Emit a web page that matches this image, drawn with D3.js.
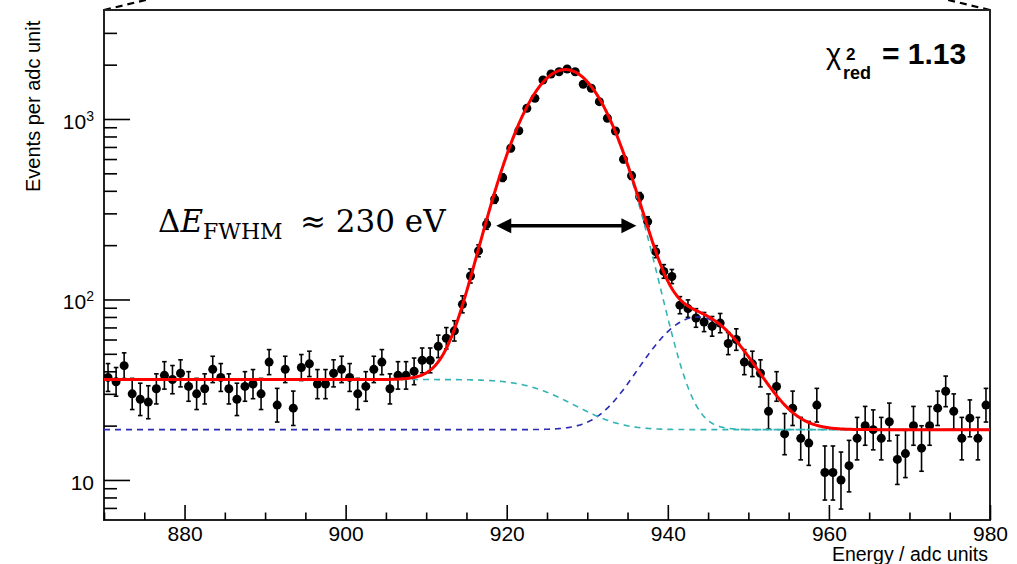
<!DOCTYPE html>
<html>
<head>
<meta charset="utf-8">
<script src="https://cdn.jsdelivr.net/npm/d3@7"></script>
<style>
	body { margin: 0; background: #fff; }
	svg text { font-family: "Liberation Sans", Arial, Helvetica, sans-serif; fill: #000; }
</style>
</head>
<body>
<div id="canvas"></div>
<script>
// histogram: 1 adc-unit bins starting at 870
const binStart = 870;
const binWidth = 1;
const counts = [
	37, 35, 43, 30, 28, 27, 32, 38, 36, 39,
	33, 30, 32, 41, 37, 32, 28, 33, 34, 30,
	45, 26, 41, 25, 42, 44, 34, 34, 39, 41,
	37, 30, 33, 41, 45, 32, 38, 38, 40, 46,
	46, 55, 61, 67, 94, 135, 186, 261, 360, 473,
	688, 861, 1146, 1302, 1645, 1776, 1828, 1892, 1828, 1557,
	1480, 1247, 1009, 858, 598, 485, 371, 270, 184, 143,
	134, 93, 89, 79, 75, 71, 74, 57, 60, 45,
	44, 39, 24, 33, 18, 25, 17, 16, 26, 11,
	11, 10, 12, 17, 20, 19, 17, 21, 13, 14,
	20, 15, 20, 25, 31, 24, 17, 22, 17, 26
];

const xTicksMajor = [880, 900, 920, 940, 960, 980];
const xTicksMinor = [870, 875, 885, 890, 895, 905, 910, 915, 925, 930, 935, 945, 950, 955, 965, 970, 975];
const yTicksMajor = [10, 100, 1000];
const yTickLabels = [["10", ""], ["10", "2"], ["10", "3"]];
const yTicksMinor = [7, 8, 9, 20, 30, 40, 50, 60, 70, 80, 90, 200, 300, 400, 500, 600, 700, 800, 900, 2000, 3000];

// fit parameters
const fitBkg = 19.0;
const stepHeight = 17.0;
const peakMean = 927.3, peakSigma = 4.85, peakAmp = 1850;
const tailMean = 943.7, tailSigma = 5.2, tailAmp = 61;
const chi2red = "1.13";

// FWHM arrow (energy, events)
const arrowEnds = [918.7, 936.1];
const arrowLevel = 256;

const width = 1017, height = 564;
const plotLeft = 104, plotRight = 990, plotTop = 10, plotBottom = 520;

const svg = d3.select("#canvas").append("svg")
	.attr("width", width)
	.attr("height", height);

const x = d3.scaleLinear().domain([870, 980]).range([plotLeft, plotRight]);
const y = d3.scaleLog().domain([6.0, 4017]).range([plotBottom, plotTop]);

svg.append("clipPath").attr("id", "plotclip")
	.append("rect").attr("x", plotLeft).attr("y", plotTop)
	.attr("width", plotRight - plotLeft).attr("height", plotBottom - plotTop);

// zoom guide lines above frame
svg.append("line").attr("x1", plotLeft).attr("y1", plotTop).attr("x2", plotLeft + 46).attr("y2", -1)
	.attr("stroke", "#000").attr("stroke-width", 2.2).attr("stroke-dasharray", "7,5");
svg.append("line").attr("x1", plotRight).attr("y1", plotTop).attr("x2", plotRight - 46).attr("y2", -1)
	.attr("stroke", "#000").attr("stroke-width", 2.2).attr("stroke-dasharray", "7,5");

// frame
svg.append("rect").attr("x", plotLeft).attr("y", plotTop)
	.attr("width", plotRight - plotLeft).attr("height", plotBottom - plotTop)
	.attr("fill", "none").attr("stroke", "#222").attr("stroke-width", 2);

// x axis
const xMajor = svg.append("g").attr("transform", `translate(0,${plotBottom})`)
	.call(d3.axisBottom(x).tickValues(xTicksMajor).tickSizeInner(-15).tickSizeOuter(0).tickPadding(6));
const xMinor = svg.append("g").attr("transform", `translate(0,${plotBottom})`)
	.call(d3.axisBottom(x).tickValues(xTicksMinor).tickSizeInner(-7.5).tickSizeOuter(0).tickFormat(""));

// y axis
const yMajor = svg.append("g").attr("transform", `translate(${plotLeft},0)`)
	.call(d3.axisLeft(y).tickValues(yTicksMajor).tickSizeInner(-26).tickSizeOuter(0).tickFormat(""));
const yMinor = svg.append("g").attr("transform", `translate(${plotLeft},0)`)
	.call(d3.axisLeft(y).tickValues(yTicksMinor).tickSizeInner(-13).tickSizeOuter(0).tickFormat(""));

[xMajor, xMinor, yMajor, yMinor].forEach(g => {
	g.select(".domain").remove();
	g.selectAll(".tick line").attr("stroke", "#000").attr("stroke-width", 1.6);
});
xMajor.selectAll(".tick text").style("font-size", "21px").attr("fill", "#000");

const yLab = svg.append("g").selectAll("text")
	.data(yTicksMajor)
	.enter()
	.append("text")
	.attr("x", 94)
	.attr("y", d => y(d) + 10)
	.attr("text-anchor", "end")
	.style("font-size", "21px");
yLab.append("tspan").text((d, i) => yTickLabels[i][0]);
yLab.append("tspan").attr("dy", -8).style("font-size", "14px").text((d, i) => yTickLabels[i][1]);

// axis titles
svg.append("text")
	.attr("transform", "translate(39.5,192) rotate(-90)")
	.attr("text-anchor", "start")
	.style("font-size", "20px")
	.text("Events per adc unit");
svg.append("text")
	.attr("x", 988).attr("y", 561)
	.attr("text-anchor", "end")
	.style("font-size", "19.5px")
	.text("Energy / adc units");

// data points with poisson errors
const data = counts.map((n, i) => {
	const lo = n * Math.pow(1 - 1 / (9 * n) - 1 / (3 * Math.sqrt(n)), 3);
	const hi = n + Math.sqrt(n + 0.75) + 1;
	return { e: binStart + (i + 0.5) * binWidth, n: n, lo: lo, hi: hi };
});

const pts = svg.append("g").attr("clip-path", "url(#plotclip)");
pts.selectAll("line.err")
	.data(data).enter().append("line")
	.attr("class", "err")
	.attr("x1", d => x(d.e)).attr("x2", d => x(d.e))
	.attr("y1", d => y(d.lo)).attr("y2", d => y(d.hi))
	.attr("stroke", "#000").attr("stroke-width", 1.6);
pts.selectAll("line.caphi")
	.data(data).enter().append("line")
	.attr("x1", d => x(d.e) - 2.3).attr("x2", d => x(d.e) + 2.3)
	.attr("y1", d => y(d.hi)).attr("y2", d => y(d.hi))
	.attr("stroke", "#000").attr("stroke-width", 1.6);
pts.selectAll("line.caplo")
	.data(data).enter().append("line")
	.attr("x1", d => x(d.e) - 2.3).attr("x2", d => x(d.e) + 2.3)
	.attr("y1", d => y(d.lo)).attr("y2", d => y(d.lo))
	.attr("stroke", "#000").attr("stroke-width", 1.6);
pts.selectAll("circle")
	.data(data).enter().append("circle")
	.attr("cx", d => x(d.e)).attr("cy", d => y(d.n))
	.attr("r", 4.5).attr("fill", "#000");

// fit functions
function erfc(v) {
	const z = Math.abs(v);
	const t = 1 / (1 + 0.5 * z);
	const r = t * Math.exp(-z * z - 1.26551223 + t * (1.00002368 + t * (0.37409196 + t * (0.09678418 +
		t * (-0.18628806 + t * (0.27886807 + t * (-1.13520398 + t * (1.48851587 +
		t * (-0.82215223 + t * 0.17087277)))))))));
	return v >= 0 ? r : 2 - r;
}
const gauss = (e, a, m, s) => a * Math.exp(-0.5 * ((e - m) / s) ** 2);
const step = e => stepHeight * 0.5 * erfc((e - peakMean) / (Math.SQRT2 * peakSigma));
const stepComp = e => fitBkg + step(e);
const mainComp = e => fitBkg + step(e) + gauss(e, peakAmp, peakMean, peakSigma);
const tailComp = e => fitBkg + gauss(e, tailAmp, tailMean, tailSigma);
const total = e => fitBkg + step(e) + gauss(e, peakAmp, peakMean, peakSigma) + gauss(e, tailAmp, tailMean, tailSigma);

const grid = d3.range(870, 980.001, 0.1);
const curve = f => d3.line().x(e => x(e)).y(e => y(f(e)))(grid);

const fits = svg.append("g").attr("clip-path", "url(#plotclip)");
fits.append("path").attr("d", curve(tailComp))
	.attr("fill", "none").attr("stroke", "#2b2bb5").attr("stroke-width", 1.6).attr("stroke-dasharray", "6,5");
fits.append("path").attr("d", curve(stepComp))
	.attr("fill", "none").attr("stroke", "#34b4b4").attr("stroke-width", 1.6).attr("stroke-dasharray", "6,5");
fits.append("path").attr("d", curve(mainComp))
	.attr("fill", "none").attr("stroke", "#34b4b4").attr("stroke-width", 1.6).attr("stroke-dasharray", "6,5");
fits.append("path").attr("d", curve(total))
	.attr("fill", "none").attr("stroke", "#ff0000").attr("stroke-width", 3);

// FWHM arrow
const ax1 = x(arrowEnds[0]), ax2 = x(arrowEnds[1]), ay = y(arrowLevel);
svg.append("line").attr("x1", ax1 + 10).attr("x2", ax2 - 10).attr("y1", ay).attr("y2", ay)
	.attr("stroke", "#000").attr("stroke-width", 3.5);
svg.append("path")
	.attr("d", `M${ax1},${ay} L${ax1 + 15},${ay - 7.5} L${ax1 + 15},${ay + 7.5} Z M${ax2},${ay} L${ax2 - 15},${ay - 7.5} L${ax2 - 15},${ay + 7.5} Z`)
	.attr("fill", "#000");

// annotation
const ann = svg.append("text")
	.attr("x", 158).attr("y", 232)
	.style("font-family", "'DejaVu Serif', 'Liberation Serif', serif")
	.style("font-size", "31px");
ann.append("tspan").text("\u0394");
ann.append("tspan").style("font-style", "italic").text("E");
ann.append("tspan").attr("dy", 7).style("font-size", "22px").text("FWHM");
ann.append("tspan").attr("x", 300).attr("dy", -7).text("\u2248 230 eV");

// chi2 label
svg.append("text").attr("x", 826).attr("y", 64).style("font-size", "29px").text("\u03c7");
svg.append("text").attr("x", 846).attr("y", 60).style("font-size", "17px").style("font-weight", "bold").text("2");
svg.append("text").attr("x", 843).attr("y", 79).style("font-size", "18px").style("font-weight", "bold").text("red");
svg.append("text").attr("x", 882).attr("y", 64).style("font-size", "30px").style("font-weight", "bold").text("= " + chi2red);
</script>
</body>
</html>
